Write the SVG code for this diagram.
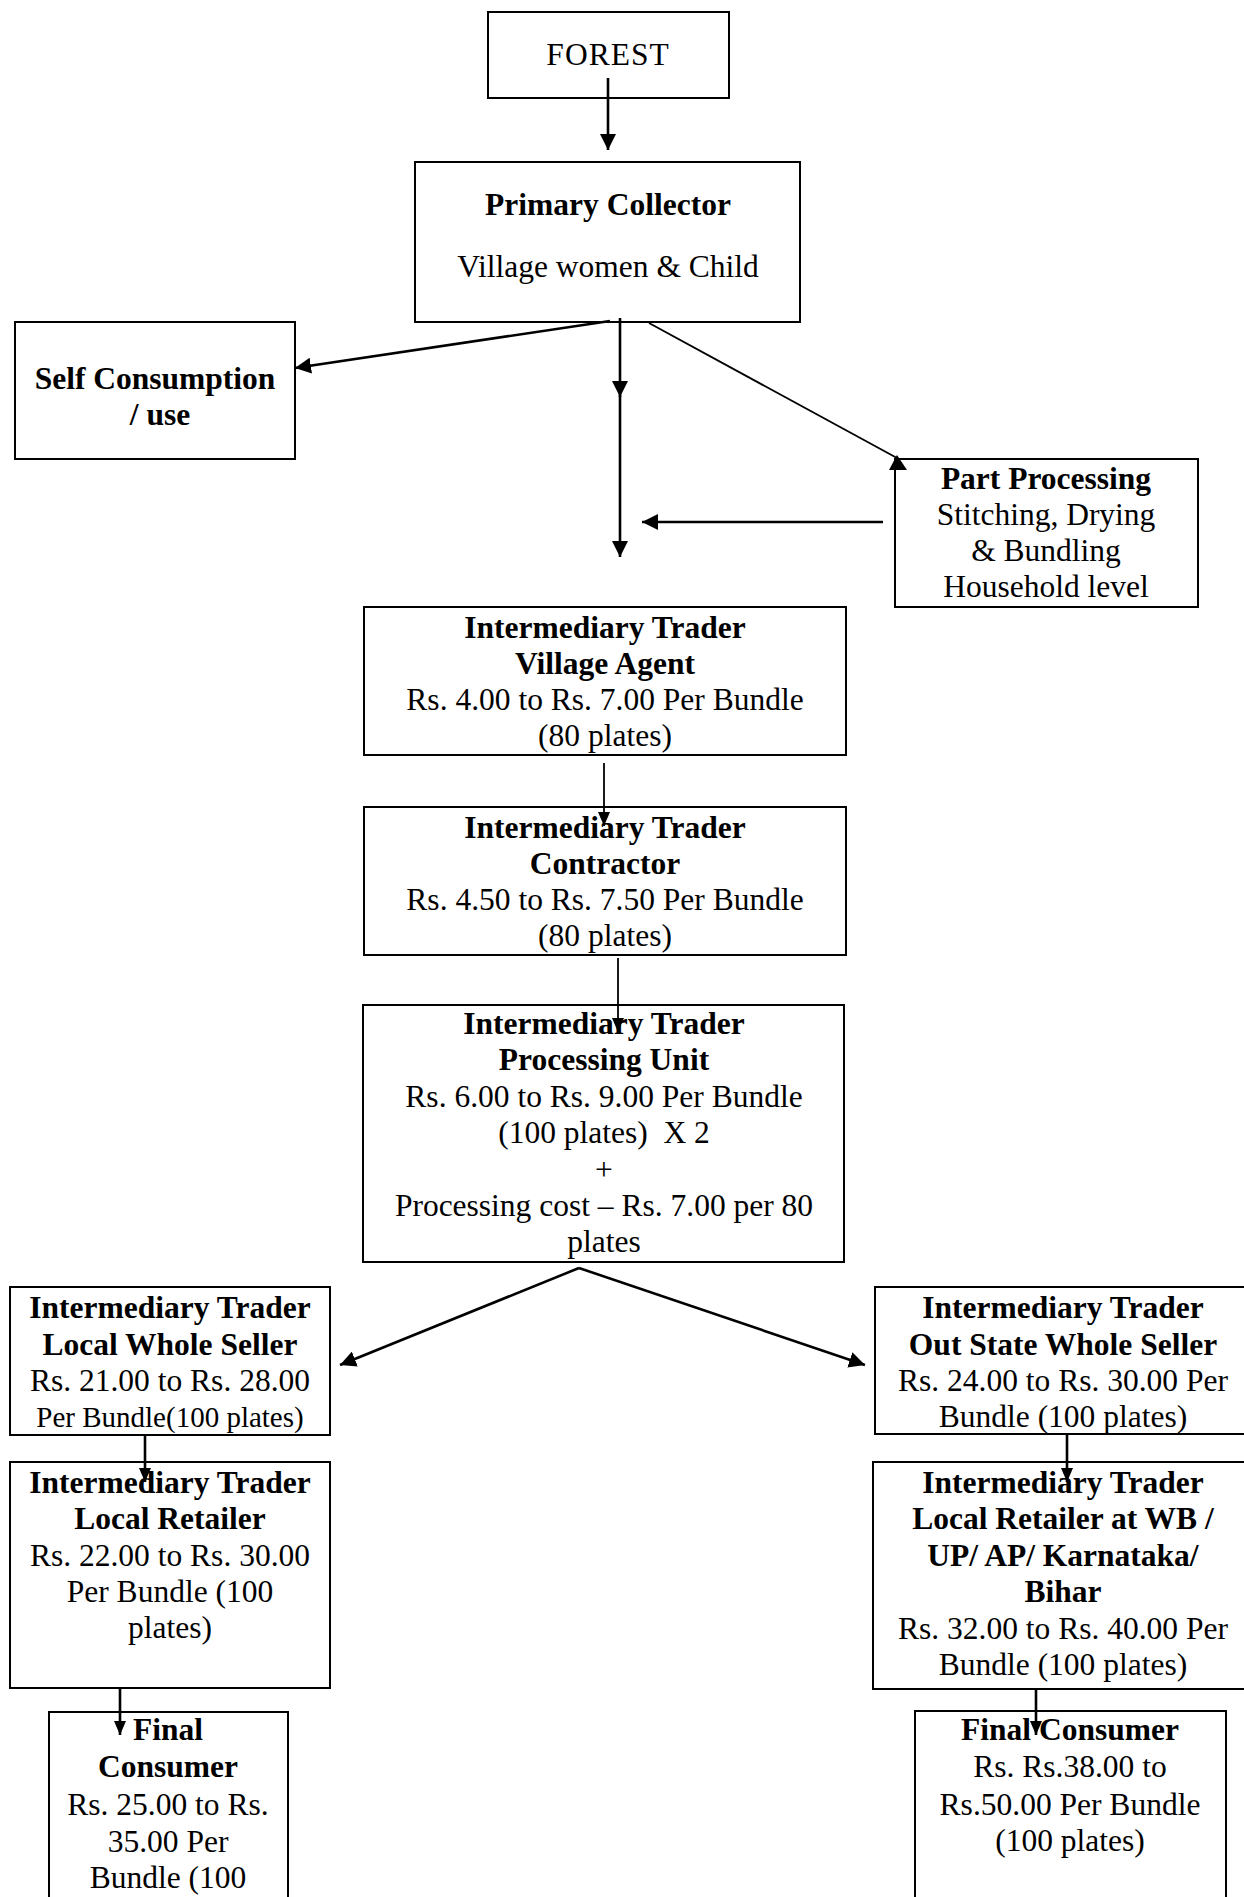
<svg xmlns="http://www.w3.org/2000/svg" width="1244" height="1897" viewBox="0 0 1244 1897">
<style>
.bx{fill:#fff;stroke:#000;stroke-width:2}
.t{font-family:"Liberation Serif","Times New Roman",serif;font-size:31.5px;text-anchor:middle;fill:#000}
.b{font-weight:bold}
.s{font-size:29px}
.c{stroke:#000;fill:none;stroke-width:1.8}
.k{stroke-width:2.6}
</style>
<defs>
<marker id="ah" markerUnits="userSpaceOnUse" markerWidth="16" markerHeight="16" refX="16" refY="8" orient="auto">
<path d="M0,0 L16,8 L0,16 z" fill="#000"/>
</marker>
<marker id="as" markerUnits="userSpaceOnUse" markerWidth="14" markerHeight="12" refX="14" refY="6" orient="auto">
<path d="M0,0 L14,6 L0,12 z" fill="#000"/>
</marker>
</defs>
<rect width="1244" height="1897" fill="#fff"/>

<g id="forest">
<rect class="bx" x="488" y="12" width="241" height="86"/>
<text class="t" x="608" y="65" style="letter-spacing:1px">FOREST</text>
</g>

<g id="primary-collector">
<rect class="bx" x="415" y="162" width="385" height="160"/>
<text class="t b" x="608" y="215">Primary Collector</text>
<text class="t" x="608" y="277">Village women &amp; Child</text>
</g>

<g id="self-consumption">
<rect class="bx" x="15" y="322" width="280" height="137"/>
<text class="t b" x="155" y="389">Self Consumption</text>
<text class="t b" x="160" y="425">/ use</text>
</g>

<g id="part-processing">
<rect class="bx" x="895" y="459" width="303" height="148"/>
<text class="t b" x="1046" y="489">Part Processing</text>
<text class="t" x="1046" y="525">Stitching, Drying</text>
<text class="t" x="1046" y="561">&amp; Bundling</text>
<text class="t" x="1046" y="597">Household level</text>
</g>

<g id="village-agent">
<rect class="bx" x="364" y="607" width="482" height="148"/>
<text class="t b" x="605" y="638">Intermediary Trader</text>
<text class="t b" x="605" y="674">Village Agent</text>
<text class="t" x="605" y="710">Rs. 4.00 to Rs. 7.00 Per Bundle</text>
<text class="t" x="605" y="746">(80 plates)</text>
</g>

<g id="contractor">
<rect class="bx" x="364" y="807" width="482" height="148"/>
<text class="t b" x="605" y="838">Intermediary Trader</text>
<text class="t b" x="605" y="874">Contractor</text>
<text class="t" x="605" y="910">Rs. 4.50 to Rs. 7.50 Per Bundle</text>
<text class="t" x="605" y="946">(80 plates)</text>
</g>

<g id="processing-unit">
<rect class="bx" x="363" y="1005" width="481" height="257"/>
<text class="t b" x="604" y="1034">Intermediary Trader</text>
<text class="t b" x="604" y="1070">Processing Unit</text>
<text class="t" x="604" y="1107">Rs. 6.00 to Rs. 9.00 Per Bundle</text>
<text class="t" x="604" y="1143">(100 plates)&#160; X 2</text>
<text class="t" x="604" y="1180">+</text>
<text class="t" x="604" y="1216">Processing cost – Rs. 7.00 per 80</text>
<text class="t" x="604" y="1252">plates</text>
</g>

<g id="local-whole-seller">
<rect class="bx" x="10" y="1287" width="320" height="148"/>
<text class="t b" x="170" y="1318">Intermediary Trader</text>
<text class="t b" x="170" y="1355">Local Whole Seller</text>
<text class="t" x="170" y="1391">Rs. 21.00 to Rs. 28.00</text>
<text class="t s" x="170" y="1427">Per Bundle(100 plates)</text>
</g>

<g id="out-state-whole-seller">
<rect class="bx" x="875" y="1287" width="385" height="147"/>
<text class="t b" x="1063" y="1318">Intermediary Trader</text>
<text class="t b" x="1063" y="1355">Out State Whole Seller</text>
<text class="t" x="1063" y="1391">Rs. 24.00 to Rs. 30.00 Per</text>
<text class="t" x="1063" y="1427">Bundle (100 plates)</text>
</g>

<g id="local-retailer">
<rect class="bx" x="10" y="1462" width="320" height="226"/>
<text class="t b" x="170" y="1493">Intermediary Trader</text>
<text class="t b" x="170" y="1529">Local Retailer</text>
<text class="t" x="170" y="1566">Rs. 22.00 to Rs. 30.00</text>
<text class="t" x="170" y="1602">Per Bundle (100</text>
<text class="t" x="170" y="1638">plates)</text>
</g>

<g id="local-retailer-wb">
<rect class="bx" x="873" y="1462" width="387" height="227"/>
<text class="t b" x="1063" y="1493">Intermediary Trader</text>
<text class="t b" x="1063" y="1529">Local Retailer at WB /</text>
<text class="t b" x="1063" y="1566">UP/ AP/ Karnataka/</text>
<text class="t b" x="1063" y="1602">Bihar</text>
<text class="t" x="1063" y="1639">Rs. 32.00 to Rs. 40.00 Per</text>
<text class="t" x="1063" y="1675">Bundle (100 plates)</text>
</g>

<g id="final-consumer-left">
<rect class="bx" x="49" y="1712" width="239" height="200"/>
<text class="t b" x="168" y="1740">Final</text>
<text class="t b" x="168" y="1777">Consumer</text>
<text class="t" x="168" y="1815">Rs. 25.00 to Rs.</text>
<text class="t" x="168" y="1852">35.00 Per</text>
<text class="t" x="168" y="1888">Bundle (100</text>
</g>

<g id="final-consumer-right">
<rect class="bx" x="915" y="1711" width="311" height="200"/>
<text class="t b" x="1070" y="1740">Final Consumer</text>
<text class="t" x="1070" y="1777">Rs. Rs.38.00 to</text>
<text class="t" x="1070" y="1815">Rs.50.00 Per Bundle</text>
<text class="t" x="1070" y="1851">(100 plates)</text>
</g>

<g id="connectors">
<line class="c k" x1="608" y1="78" x2="608" y2="150" marker-end="url(#ah)"/>
<line class="c k" x1="610" y1="321" x2="295" y2="368" marker-end="url(#ah)"/>
<line class="c k" x1="620" y1="318" x2="620" y2="397" marker-end="url(#ah)"/>
<line class="c k" x1="620" y1="395" x2="620" y2="557" marker-end="url(#ah)"/>
<line class="c" x1="649" y1="323" x2="897" y2="458"/>
<polygon points="897,455 889,470 907,470" fill="#000"/>
<line class="c k" x1="883" y1="522" x2="642" y2="522" marker-end="url(#ah)"/>
<line class="c" x1="604" y1="763" x2="604" y2="826" marker-end="url(#as)"/>
<line class="c" x1="618" y1="958" x2="618" y2="1032" marker-end="url(#as)"/>
<line class="c k" x1="579" y1="1268" x2="340" y2="1365" marker-end="url(#ah)"/>
<line class="c k" x1="579" y1="1268" x2="865" y2="1365" marker-end="url(#ah)"/>
<line class="c k" x1="145" y1="1435" x2="145" y2="1482" marker-end="url(#as)"/>
<line class="c k" x1="1067" y1="1434" x2="1067" y2="1482" marker-end="url(#as)"/>
<line class="c k" x1="120" y1="1689" x2="120" y2="1735" marker-end="url(#as)"/>
<line class="c k" x1="1036" y1="1689" x2="1036" y2="1735" marker-end="url(#as)"/>
</g>
</svg>
